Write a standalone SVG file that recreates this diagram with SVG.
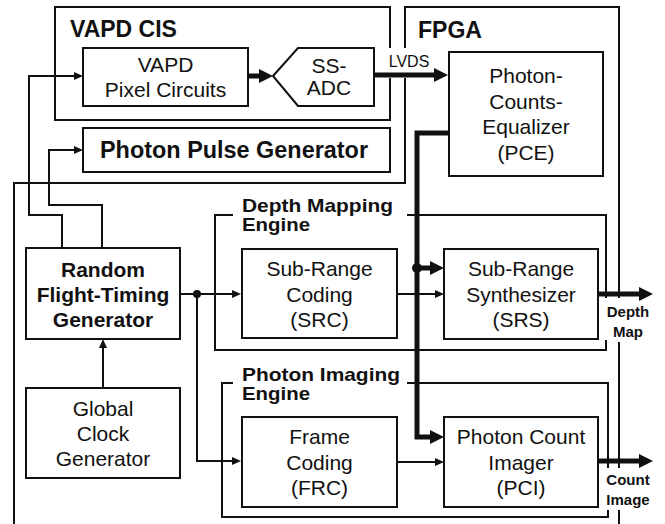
<svg xmlns="http://www.w3.org/2000/svg" width="665" height="524" viewBox="0 0 665 524">
<style>
text{font-family:"Liberation Sans",Arial,sans-serif;fill:#111}
.b{font-weight:bold}
.n{font-size:21px;text-anchor:middle}
.box{fill:#fff;stroke:#111;stroke-width:2}
.ln{fill:none;stroke:#111;stroke-width:2}
.th{fill:none;stroke:#111;stroke-width:2}
.tk{fill:none;stroke:#111;stroke-width:5;stroke-linejoin:miter}
.eng{font-size:19px;font-weight:bold}
</style>
<defs>
<marker id="ah" markerUnits="userSpaceOnUse" markerWidth="10" markerHeight="9" refX="6" refY="4" orient="auto"><path d="M0,0L9,4L0,8z" fill="#111"/></marker>
<marker id="ahk" markerUnits="userSpaceOnUse" markerWidth="15" markerHeight="15" refX="4" refY="7" orient="auto"><path d="M0,0L14,7L0,14z" fill="#111"/></marker>
</defs>
<rect width="665" height="524" fill="#fff"/>

<g id="frames">
<path class="ln" d="M390,48V7H55V120H390V78"/>
<path class="ln" d="M14,524V183H405V78M405,48V7H619V298M619,342V468M619,510V524"/>
<path class="ln" d="M233,215H215V350H606V340M407,215H606V298"/>
<path class="ln" d="M233,383H222V517H608V510M407,383H608V468"/>
<text class="b" x="70" y="37" font-size="23">VAPD CIS</text>
<text class="b" x="418" y="38" font-size="23">FPGA</text>
<text class="eng" x="242" y="212" textLength="151" lengthAdjust="spacingAndGlyphs">Depth Mapping</text>
<text class="eng" x="242" y="231" textLength="68" lengthAdjust="spacingAndGlyphs">Engine</text>
<text class="eng" x="242" y="381" textLength="158" lengthAdjust="spacingAndGlyphs">Photon Imaging</text>
<text class="eng" x="242" y="400" textLength="68" lengthAdjust="spacingAndGlyphs">Engine</text>
</g>

<g id="pixel">
<rect class="box" x="83" y="48" width="165" height="58"/>
<text class="n" x="165.5" y="72">VAPD</text>
<text class="n" x="165.5" y="97">Pixel Circuits</text>
</g>
<g id="ssadc">
<path class="box" d="M273,76L298,48H374V106H298Z"/>
<text class="n" x="329" y="73" font-size="19">SS-</text>
<text class="n" x="329" y="95" font-size="19">ADC</text>
</g>
<g id="ppg">
<rect class="box" x="83" y="128" width="307" height="44"/>
<text class="b" x="234" y="158" font-size="23" text-anchor="middle" textLength="268" lengthAdjust="spacingAndGlyphs">Photon Pulse Generator</text>
</g>
<g id="pce">
<rect class="box" x="449" y="52" width="154" height="124"/>
<text class="n" x="526" y="83">Photon-</text>
<text class="n" x="526" y="109">Counts-</text>
<text class="n" x="526" y="134">Equalizer</text>
<text class="n" x="526" y="160">(PCE)</text>
</g>
<g id="rftg">
<rect class="box" x="26" y="248" width="154" height="91"/>
<text class="n b" x="103" y="277">Random</text>
<text class="n b" x="103" y="302">Flight-Timing</text>
<text class="n b" x="103" y="327">Generator</text>
</g>
<g id="gcg">
<rect class="box" x="26" y="388" width="154" height="90"/>
<text class="n" x="103" y="416">Global</text>
<text class="n" x="103" y="441">Clock</text>
<text class="n" x="103" y="466">Generator</text>
</g>
<g id="src">
<rect class="box" x="242" y="249" width="155" height="89"/>
<text class="n" x="319.5" y="276">Sub-Range</text>
<text class="n" x="319.5" y="302">Coding</text>
<text class="n" x="319.5" y="327">(SRC)</text>
</g>
<g id="srs">
<rect class="box" x="444" y="249" width="154" height="90"/>
<text class="n" x="521" y="276">Sub-Range</text>
<text class="n" x="521" y="302">Synthesizer</text>
<text class="n" x="521" y="327">(SRS)</text>
</g>
<g id="frc">
<rect class="box" x="242" y="417" width="155" height="90"/>
<text class="n" x="319.5" y="444">Frame</text>
<text class="n" x="319.5" y="470">Coding</text>
<text class="n" x="319.5" y="495">(FRC)</text>
</g>
<g id="pci">
<rect class="box" x="444" y="417" width="154" height="90"/>
<text class="n" x="521" y="444">Photon Count</text>
<text class="n" x="521" y="470">Imager</text>
<text class="n" x="521" y="495">(PCI)</text>
</g>

<g id="connectors">
<path class="th" d="M103,388V342" marker-end="url(#ah)"/>
<path class="th" d="M180,294H238" marker-end="url(#ah)"/>
<path class="th" d="M197,294V461H238" marker-end="url(#ah)"/>
<circle cx="197" cy="294" r="4" fill="#111"/>
<path class="th" d="M397,294H441" marker-end="url(#ah)"/>
<path class="th" d="M397,462H441" marker-end="url(#ah)"/>
<path class="th" d="M62,248V215H29V76H80" marker-end="url(#ah)"/>
<path class="th" d="M102,248V205H49V150H80" marker-end="url(#ah)"/>
<path class="tk" d="M248,76H263" marker-end="url(#ahk)"/>
<path class="tk" d="M374,75H438" marker-end="url(#ahk)"/>
<path class="tk" d="M449,133H417V437H434" marker-end="url(#ahk)"/>
<path class="tk" d="M417,268H434" marker-end="url(#ahk)"/>
<circle cx="417" cy="268" r="5" fill="#111"/>
<path class="tk" d="M598,294H643" marker-end="url(#ahk)"/>
<path class="tk" d="M598,461H643" marker-end="url(#ahk)"/>
<text x="409" y="67" font-size="16" text-anchor="middle">LVDS</text>
<text class="b" x="628" y="317" font-size="15" text-anchor="middle">Depth</text>
<text class="b" x="628" y="337" font-size="15" text-anchor="middle">Map</text>
<text class="b" x="628" y="485" font-size="15" text-anchor="middle">Count</text>
<text class="b" x="628" y="505" font-size="15" text-anchor="middle">Image</text>
</g>
</svg>
